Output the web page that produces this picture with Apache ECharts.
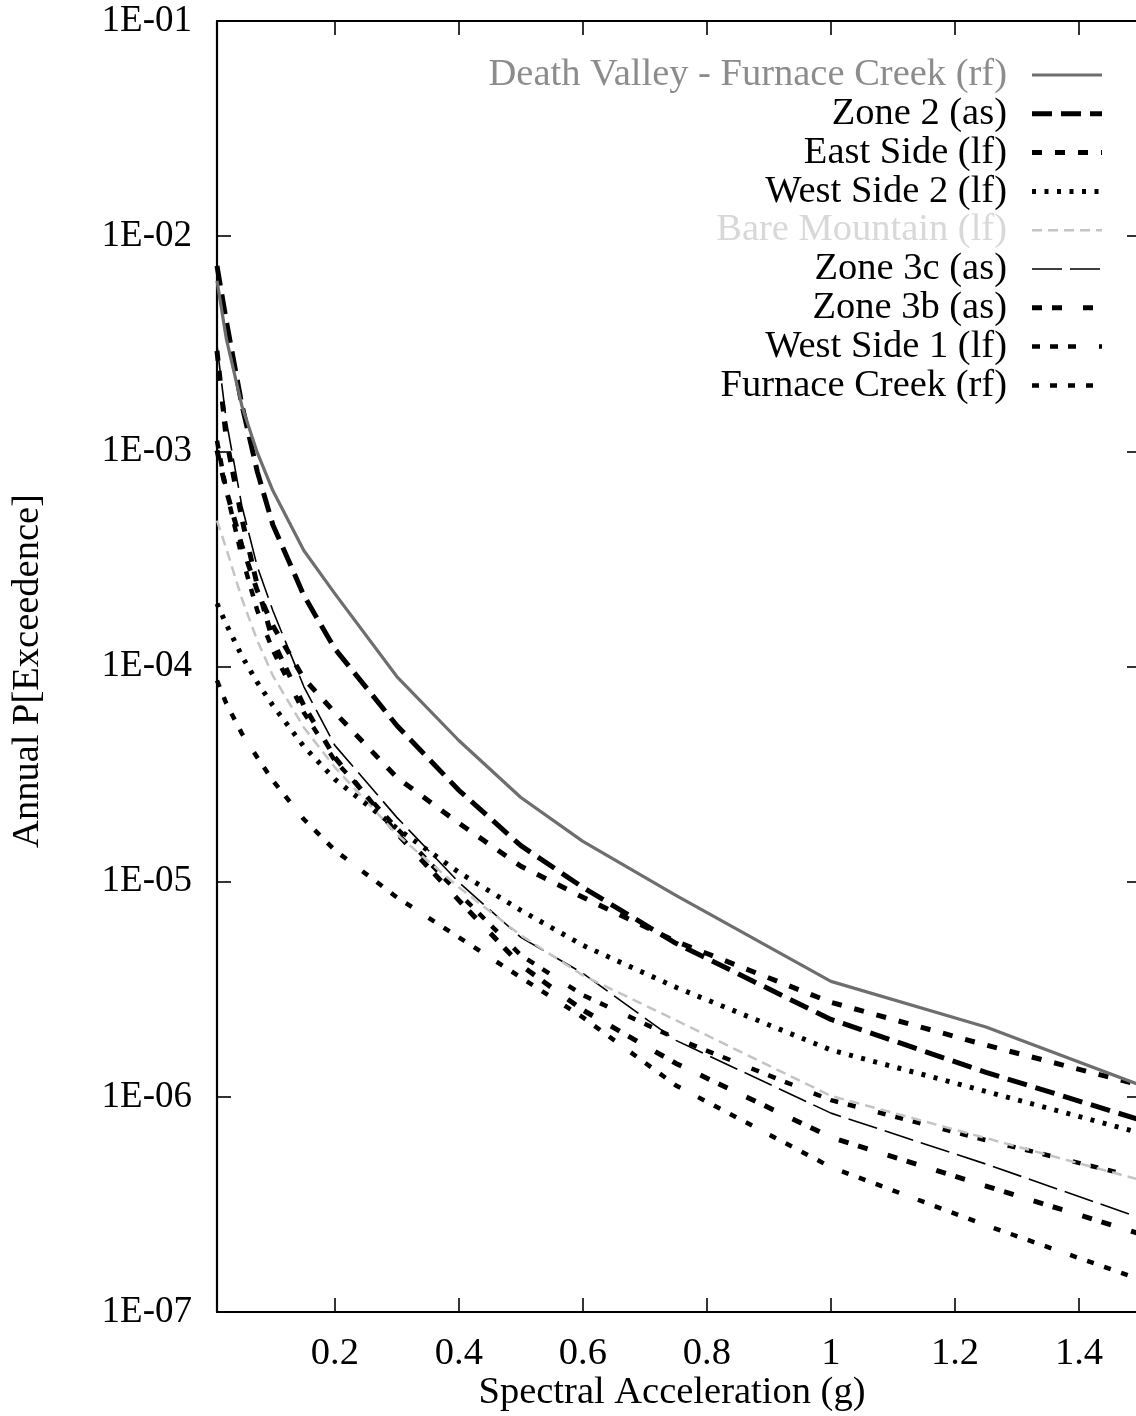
<!DOCTYPE html>
<html>
<head>
<meta charset="utf-8">
<script src="https://cdn.jsdelivr.net/npm/echarts@6/dist/echarts.min.js"></script>
<style>
  html, body { margin: 0; padding: 0; background: #ffffff; }
  #chart { width: 1136px; height: 1416px; }
</style>
</head>
<body>
<div id="chart"></div>
<script>
// Spectral acceleration sample points (g)
const accel = [0.01, 0.025, 0.05, 0.075, 0.1, 0.15, 0.2, 0.3, 0.4, 0.5, 0.6, 0.75, 1.0, 1.25, 1.5];

// Annual probability of exceedence for each source
const deathValleyFurnaceCreek = [6.20e-3, 3.34e-3, 1.63e-3, 9.86e-4, 6.57e-4, 3.46e-4, 2.18e-4, 8.98e-5, 4.53e-5, 2.46e-5, 1.54e-5, 8.64e-6, 3.44e-6, 2.11e-6, 1.13e-6];
const zone2 = [7.28e-3, 4.04e-3, 1.65e-3, 8.05e-4, 4.56e-4, 2.14e-4, 1.21e-4, 5.32e-5, 2.66e-5, 1.47e-5, 9.41e-6, 5.17e-6, 2.29e-6, 1.30e-6, 7.79e-7];
const eastSide = [1.01e-3, 6.57e-4, 3.65e-4, 2.25e-4, 1.55e-4, 8.80e-5, 6.11e-5, 3.05e-5, 1.87e-5, 1.18e-5, 8.46e-6, 5.28e-6, 2.75e-6, 1.74e-6, 1.13e-6];
const westSide2 = [1.96e-4, 1.57e-4, 1.12e-4, 8.43e-5, 6.59e-5, 4.25e-5, 2.99e-5, 1.77e-5, 1.105e-5, 7.36e-6, 5.06e-6, 3.23e-6, 1.65e-6, 1.06e-6, 6.78e-7];
const bareMountain = [4.76e-4, 3.53e-4, 2.07e-4, 1.32e-4, 9.08e-5, 5.21e-5, 3.40e-5, 1.66e-5, 9.41e-6, 5.63e-6, 3.67e-6, 2.27e-6, 1.01e-6, 6.43e-7, 4.10e-7];
const zone3c = [3.10e-3, 1.39e-3, 5.59e-4, 2.91e-4, 1.82e-4, 8.07e-5, 4.30e-5, 1.99e-5, 9.93e-6, 5.51e-6, 3.75e-6, 1.83e-6, 8.40e-7, 4.87e-7, 2.73e-7];
const zone3b = [2.93e-3, 1.14e-3, 4.87e-4, 2.38e-4, 1.32e-4, 6.59e-5, 3.78e-5, 1.68e-5, 8.19e-6, 4.09e-6, 2.53e-6, 1.43e-6, 6.49e-7, 3.85e-7, 2.30e-7];
const westSide1 = [1.12e-3, 6.57e-4, 3.24e-4, 1.82e-4, 1.19e-4, 6.11e-5, 3.66e-5, 1.77e-5, 8.83e-6, 4.55e-6, 2.97e-6, 1.87e-6, 9.65e-7, 6.29e-7, 4.19e-7];
const furnaceCreek = [8.61e-5, 6.73e-5, 4.89e-5, 3.78e-5, 2.95e-5, 1.95e-5, 1.40e-5, 8.46e-6, 5.51e-6, 3.59e-6, 2.34e-6, 1.13e-6, 4.71e-7, 2.53e-7, 1.41e-7];

const seriesNames = [
  'Death Valley - Furnace Creek (rf)',
  'Zone 2 (as)',
  'East Side (lf)',
  'West Side 2 (lf)',
  'Bare Mountain (lf)',
  'Zone 3c (as)',
  'Zone 3b (as)',
  'West Side 1 (lf)',
  'Furnace Creek (rf)'
];
const seriesValues = [deathValleyFurnaceCreek, zone2, eastSide, westSide2, bareMountain, zone3c, zone3b, westSide1, furnaceCreek];

// Axis ticks
const xTickValues = [0.2, 0.4, 0.6, 0.8, 1, 1.2, 1.4];
const xTickLabels = ['0.2', '0.4', '0.6', '0.8', '1', '1.2', '1.4'];
const yTickLabels = ['1E-07', '1E-06', '1E-05', '1E-04', '1E-03', '1E-02', '1E-01'];

// Line appearance per source (stroke colour, width, dash pattern)
const lineLooks = [
  { color: '#6e6e6e', width: 3.2, dash: 'solid', text: '#8c8c8c' },
  { color: '#000000', width: 5, dash: [20, 9], text: '#000000' },
  { color: '#000000', width: 5, dash: [10, 13], text: '#000000' },
  { color: '#000000', width: 5, dash: [4, 8.5], text: '#000000' },
  { color: '#c4c4c4', width: 2.5, dash: [10, 6], text: '#d8d8d8' },
  { color: '#000000', width: 1.6, dash: [30, 8], text: '#000000' },
  { color: '#000000', width: 5, dash: [10, 10, 10, 21], text: '#000000' },
  { color: '#000000', width: 4.5, dash: [8, 10, 8, 10, 8, 23], text: '#000000' },
  { color: '#000000', width: 4.5, dash: [7, 11, 7, 11, 7, 11, 7, 20], text: '#000000' }
];

const FONT = '"Liberation Serif", "Times New Roman", serif';
const TEXT_SIZE = 38.5;
const Y_TICK_SIZE = 37;

const chart = echarts.init(document.getElementById('chart'), null, { renderer: 'canvas' });

const series = seriesNames.map((name, i) => ({
  name: name,
  type: 'line',
  xAxisIndex: 0,
  yAxisIndex: 0,
  showSymbol: false,
  symbol: 'none',
  smooth: false,
  clip: true,
  silent: true,
  z: 10 - i,
  lineStyle: {
    color: lineLooks[i].color,
    width: lineLooks[i].width,
    type: lineLooks[i].dash,
    cap: 'butt',
    join: 'round'
  },
  data: accel.map((x, k) => [x, seriesValues[i][k]])
}));

// Key: right-aligned names with line samples
const keyTop = 75, keyStep = 38.8, keyTextRight = 1007, keyLineX1 = 1032, keyLineX2 = 1102;
const keyGraphics = [];
seriesNames.forEach((name, i) => {
  const y = keyTop + i * keyStep;
  keyGraphics.push({
    type: 'text', x: keyTextRight, y: y, silent: true,
    style: { text: name, fill: lineLooks[i].text, font: TEXT_SIZE + 'px ' + FONT, align: 'right', verticalAlign: 'middle' }
  });
  keyGraphics.push({
    type: 'line', silent: true,
    shape: { x1: keyLineX1, y1: y, x2: keyLineX2, y2: y },
    style: {
      stroke: lineLooks[i].color, lineWidth: lineLooks[i].width,
      lineDash: lineLooks[i].dash === 'solid' ? null : lineLooks[i].dash
    }
  });
});

const yLabel = v => yTickLabels[Math.round(Math.log10(v)) + 7];
const xLabel = v => xTickLabels[xTickValues.findIndex(t => Math.abs(t - v) < 1e-9)];

const axisLineStyle = { color: '#000000', width: 2.2 };
const tickStyle = { color: '#000000', width: 1.6 };

chart.setOption({
  animation: false,
  backgroundColor: '#ffffff',
  grid: { left: 217, top: 21, width: 924, height: 1291, containLabel: false, outerBoundsMode: 'none' },
  xAxis: [
    {
      type: 'value', position: 'bottom', min: 0.01, max: 1.5,
      axisLine: { show: true, onZero: false, lineStyle: axisLineStyle },
      axisTick: { show: true, inside: true, length: 14, customValues: xTickValues, lineStyle: tickStyle },
      axisLabel: { show: true, customValues: xTickValues, formatter: xLabel, margin: 22,
        color: '#000000', fontFamily: FONT, fontSize: TEXT_SIZE },
      splitLine: { show: false }
    },
    {
      type: 'value', position: 'top', min: 0.01, max: 1.5,
      axisLine: { show: true, onZero: false, lineStyle: axisLineStyle },
      axisTick: { show: true, inside: true, length: 14, customValues: xTickValues, lineStyle: tickStyle },
      axisLabel: { show: false },
      splitLine: { show: false }
    }
  ],
  yAxis: [
    {
      type: 'log', logBase: 10, position: 'left', min: 1e-7, max: 1e-1, splitNumber: 6,
      axisLine: { show: true, onZero: false, lineStyle: axisLineStyle },
      axisTick: { show: true, inside: true, length: 14, lineStyle: tickStyle },
      minorTick: { show: false },
      axisLabel: { show: true, formatter: yLabel, margin: 25,
        color: '#000000', fontFamily: FONT, fontSize: Y_TICK_SIZE },
      splitLine: { show: false }
    },
    {
      type: 'log', logBase: 10, position: 'right', min: 1e-7, max: 1e-1, splitNumber: 6,
      axisLine: { show: true, onZero: false, lineStyle: axisLineStyle },
      axisTick: { show: true, inside: true, length: 14, lineStyle: tickStyle },
      minorTick: { show: false },
      axisLabel: { show: false },
      splitLine: { show: false }
    }
  ],
  series: series,
  graphic: [
    ...keyGraphics,
    {
      type: 'text', x: 672, y: 1393, silent: true,
      style: { text: 'Spectral Acceleration (g)', fill: '#000000', font: TEXT_SIZE + 'px ' + FONT, align: 'center', verticalAlign: 'middle' }
    },
    {
      type: 'text', x: 28, y: 671, rotation: Math.PI / 2, silent: true,
      style: { text: 'Annual P[Exceedence]', fill: '#000000', font: TEXT_SIZE + 'px ' + FONT, align: 'center', verticalAlign: 'middle' }
    }
  ]
});
</script>
</body>
</html>
